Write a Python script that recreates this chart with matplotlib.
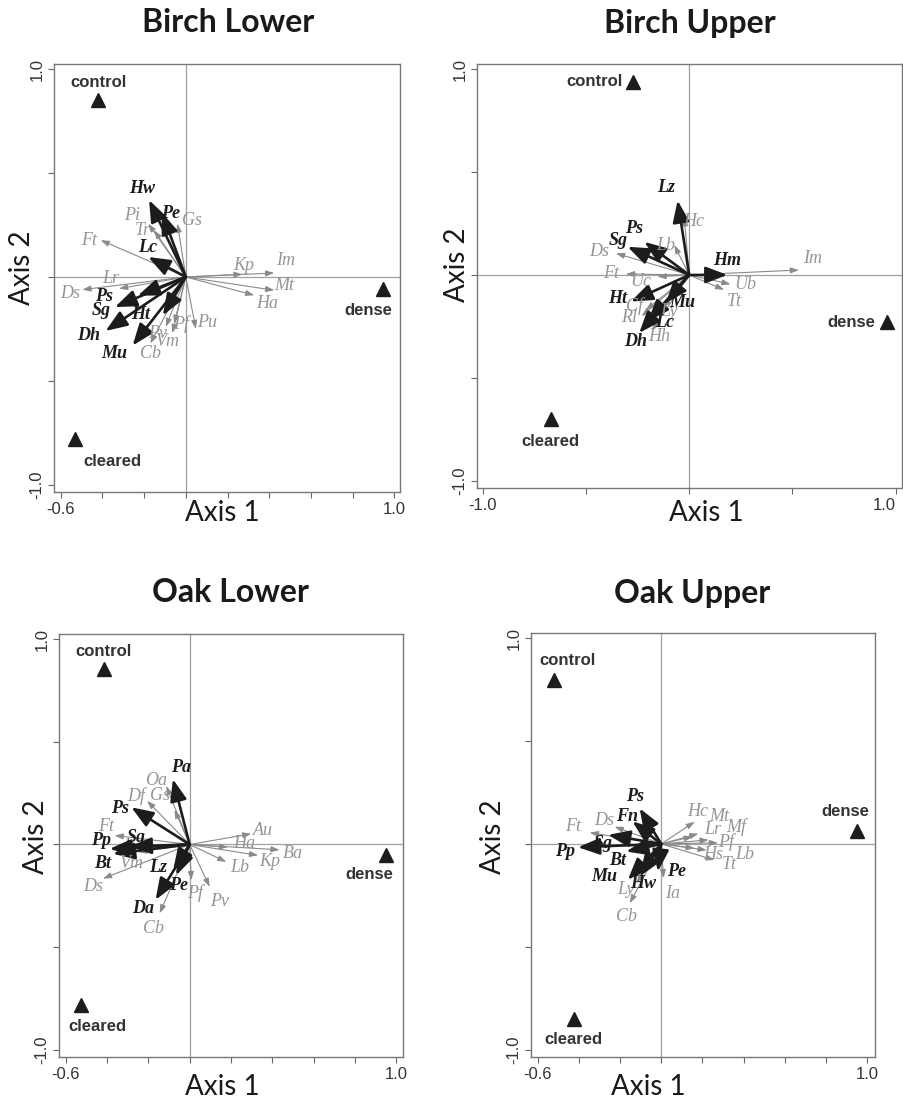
import numpy as np
import matplotlib.pyplot as plt

sites = ["control", "dense", "cleared"]

# Birch, lower canopy
bl_site_x = [-0.42, 0.944, -0.53]
bl_site_y = [0.85, -0.06, -0.78]
bl_bold = ["Hw", "Pe", "Lc", "Ps", "Sg", "Ht", "Dh", "Mu"]
bl_bold_x = [-0.176, -0.115, -0.18, -0.23, -0.34, -0.11, -0.385, -0.255]
bl_bold_y = [0.37, 0.31, 0.096, -0.09, -0.145, -0.185, -0.26, -0.33]
bl_grey = ["Pi", "Tr", "Gs", "Ft", "Lr", "Ds", "Kp", "Im", "Mt", "Ha",
           "Pf", "Pu", "Pv", "Vm", "Cb"]
bl_grey_x = [-0.18, -0.152, -0.04, -0.408, -0.32, -0.496, 0.272, 0.424,
             0.424, 0.328, -0.056, 0.048, -0.096, -0.064, -0.17]
bl_grey_y = [0.257, 0.225, 0.257, 0.177, -0.056, -0.061, 0.013, 0.019,
             -0.064, -0.088, -0.225, -0.25, -0.24, -0.27, -0.32]

# Birch, upper canopy
bu_site_x = [-0.274, 0.955, -0.671]
bu_site_y = [0.939, -0.229, -0.699]
bu_bold = ["Lz", "Ps", "Sg", "Hm", "Ht", "Mu", "Lc", "Dh"]
bu_bold_x = [-0.056, -0.217, -0.298, 0.185, -0.282, -0.113, -0.2, -0.242]
bu_bold_y = [0.362, 0.161, 0.137, 0.0, -0.129, -0.137, -0.225, -0.282]
bu_grey = ["Hc", "Lb", "Ds", "Ft", "Uc", "Im", "Ub", "Tt", "Ly", "Cf",
           "Rl", "Hh"]
bu_grey_x = [-0.024, -0.072, -0.354, -0.306, -0.153, 0.531, 0.2, 0.169,
             -0.129, -0.21, -0.23, -0.18]
bu_grey_y = [0.28, 0.145, 0.105, 0.005, -0.008, 0.024, -0.045, -0.072,
             -0.161, -0.17, -0.2, -0.27]

# Oak, lower canopy
ol_site_x = [-0.416, 0.952, -0.527]
ol_site_y = [0.853, -0.053, -0.784]
ol_bold = ["Pa", "Ps", "Sg", "Pp", "Bt", "Lz", "Pe", "Da"]
ol_bold_x = [-0.081, -0.282, -0.29, -0.387, -0.371, -0.08, -0.065, -0.165]
ol_bold_y = [0.318, 0.181, -0.01, -0.021, -0.045, -0.125, -0.15, -0.27]
ol_grey = ["Oa", "Df", "Gs", "Ft", "Vm", "Ds", "Au", "Ha", "Ba", "Kp",
           "Lb", "Pf", "Pv", "Cb"]
ol_grey_x = [-0.113, -0.206, -0.073, -0.363, -0.25, -0.419, 0.298, 0.185,
             0.435, 0.331, 0.177, 0.008, 0.097, -0.145]
ol_grey_y = [0.285, 0.213, 0.169, 0.044, -0.037, -0.166, 0.052, -0.013,
             -0.026, -0.053, -0.085, -0.174, -0.206, -0.335]

# Oak, upper canopy
ou_site_x = [-0.522, 0.952, -0.425]
ou_site_y = [0.796, 0.061, -0.848]
ou_bold = ["Ps", "Fn", "Sg", "Pp", "Bt", "Mu", "Hw", "Pe"]
ou_bold_x = [-0.105, -0.14, -0.258, -0.404, -0.17, -0.162, -0.105, -0.016]
ou_bold_y = [0.173, 0.11, 0.044, -0.016, -0.037, -0.174, -0.158, -0.134]
ou_grey = ["Ft", "Ds", "Hc", "Mt", "Lr", "Mf", "Pf", "Hs", "Lb", "Tt",
           "Ia", "Ly", "Cb"]
ou_grey_x = [-0.347, -0.226, 0.162, 0.18, 0.153, 0.23, 0.275, 0.162, 0.22,
             0.258, 0.011, -0.12, -0.153]
ou_grey_y = [0.055, 0.084, 0.108, 0.05, 0.036, 0.02, 0.006, -0.021, -0.03,
             -0.078, -0.166, -0.19, -0.288]

# where each species name sits, in axis units (hand placed to limit clashes)
label_spots = {
    "Birch Lower": {
        "Hw": (-0.208, 0.426), "Pe": (-0.075, 0.305), "Lc": (-0.181, 0.141),
        "Ps": (-0.392, -0.096), "Sg": (-0.408, -0.161), "Ht": (-0.216, -0.18),
        "Dh": (-0.464, -0.281), "Mu": (-0.344, -0.367), "Pi": (-0.256, 0.297),
        "Tr": (-0.208, 0.225), "Gs": (0.032, 0.273), "Ft": (-0.464, 0.177),
        "Lr": (-0.36, -0.008), "Ds": (-0.552, -0.08), "Kp": (0.277, 0.056),
        "Im": (0.48, 0.08), "Mt": (0.472, -0.04), "Ha": (0.392, -0.129),
        "Pf": (-0.024, -0.225), "Pu": (0.104, -0.217), "Pv": (-0.136, -0.273),
        "Vm": (-0.088, -0.313), "Cb": (-0.168, -0.367),
    },
    "Birch Upper": {
        "Lz": (-0.113, 0.427), "Ps": (-0.266, 0.225), "Sg": (-0.346, 0.169),
        "Hm": (0.185, 0.072), "Ht": (-0.346, -0.113), "Mu": (-0.032, -0.132),
        "Lc": (-0.121, -0.233), "Dh": (-0.258, -0.322), "Hc": (0.024, 0.258),
        "Lb": (-0.113, 0.145), "Ds": (-0.435, 0.113), "Ft": (-0.378, 0.008),
        "Uc": (-0.233, -0.032), "Im": (0.596, 0.081), "Ub": (0.274, -0.048),
        "Tt": (0.217, -0.129), "Ly": (-0.097, -0.177), "Cf": (-0.266, -0.153),
        "Rl": (-0.29, -0.209), "Hh": (-0.145, -0.298),
    },
    "Oak Lower": {
        "Pa": (-0.04, 0.374), "Oa": (-0.161, 0.31), "Df": (-0.258, 0.237),
        "Gs": (-0.145, 0.237), "Ps": (-0.339, 0.173), "Ft": (-0.403, 0.089),
        "Sg": (-0.258, 0.035), "Pp": (-0.427, 0.019), "Bt": (-0.419, -0.094),
        "Vm": (-0.282, -0.094), "Ds": (-0.468, -0.206), "Lz": (-0.153, -0.11),
        "Pe": (-0.056, -0.198), "Da": (-0.226, -0.311), "Cb": (-0.177, -0.408),
        "Pf": (0.024, -0.239), "Pv": (0.145, -0.279), "Au": (0.355, 0.068),
        "Ha": (0.266, 0.003), "Ba": (0.5, -0.045), "Kp": (0.387, -0.085),
        "Lb": (0.242, -0.11),
    },
    "Oak Upper": {
        "Ps": (-0.129, 0.229), "Fn": (-0.166, 0.132), "Ds": (-0.275, 0.116),
        "Ft": (-0.428, 0.084), "Sg": (-0.283, 0.003), "Pp": (-0.468, -0.037),
        "Bt": (-0.21, -0.078), "Mu": (-0.275, -0.158), "Hw": (-0.089, -0.191),
        "Pe": (0.073, -0.134), "Ia": (0.057, -0.239), "Ly": (-0.17, -0.223),
        "Cb": (-0.17, -0.352), "Hc": (0.178, 0.157), "Mt": (0.283, 0.132),
        "Lr": (0.25, 0.068), "Mf": (0.363, 0.084), "Pf": (0.315, 0.011),
        "Hs": (0.25, -0.053), "Lb": (0.404, -0.053), "Tt": (0.331, -0.102),
    },
}

W, H = 904, 1102
fig = plt.figure(figsize=(W / 100, H / 100), dpi=100)

GREY = "#959595"
DARK = "#1c1c1c"
SERIF = "Liberation Serif"
SANS = "Liberation Sans"


def px_axes(left, top, right, bottom):
    return fig.add_axes([left / W, 1 - bottom / H, (right - left) / W,
                         (bottom - top) / H])


def species_label(ax, spots, name, x, y, color, weight):
    if name in spots:
        lx, ly = spots[name]
    else:
        r = np.hypot(x, y)
        lx, ly = x + 0.065 * x / r, y + 0.05 * y / r
    ax.text(lx, ly, name, color=color, fontsize=13, family=SERIF,
            style="italic", weight=weight, ha="center", va="center", zorder=5)


def biplot(ax, spots, site_x, site_y, offsets, bold, bx, by, grey, gx, gy,
           xlim, xticks):
    ax.set_xlim(*xlim)
    ax.set_ylim(-1.035, 1.025)
    ax.axhline(0, color="#a0a0a0", lw=0.9, zorder=0)
    ax.axvline(0, color="#a0a0a0", lw=0.9, zorder=0)

    for name, x, y in zip(grey, gx, gy):
        ax.annotate("", xy=(x, y), xytext=(0, 0),
                    arrowprops=dict(arrowstyle="-|>,head_length=1.0,head_width=0.35",
                                    mutation_scale=5, color="#8a8a8a", lw=0.8,
                                    shrinkA=0, shrinkB=0), zorder=2)
        species_label(ax, spots, name, x, y, GREY, "normal")

    for name, x, y in zip(bold, bx, by):
        ax.annotate("", xy=(x, y), xytext=(0, 0),
                    arrowprops=dict(arrowstyle="-|>,head_length=1.1,head_width=0.42",
                                    mutation_scale=12, color=DARK, lw=1.9,
                                    shrinkA=0, shrinkB=0), zorder=3)
        species_label(ax, spots, name, x, y, DARK, "bold")

    ax.plot(site_x, site_y, "^", color=DARK, ms=10, zorder=4)
    for name, x, y, (dx, dy, ha) in zip(sites, site_x, site_y, offsets):
        ax.annotate(name, xy=(x, y), xytext=(dx, dy),
                    textcoords="offset points", ha=ha, va="center",
                    fontsize=12, family=SANS, weight="bold", color="#333333")

    ax.set_xticks(xticks)
    ax.set_xticklabels([f"{xticks[0]:.1f}"] + [""] * (len(xticks) - 2)
                       + [f"{xticks[-1]:.1f}"])
    yt = [-1.0, -0.5, 0.0, 0.5, 1.0]
    ax.set_yticks(yt)
    ax.set_yticklabels(["-1.0", "", "", "", "1.0"], rotation=90, va="center")
    ax.tick_params(direction="out", length=4, width=0.8, color="#666666",
                   labelsize=12, labelcolor="#333333", pad=3)
    for lab in ax.get_xticklabels() + ax.get_yticklabels():
        lab.set_family(SANS)
    for s in ax.spines.values():
        s.set_color("#777777")
        s.set_linewidth(1.0)


short_ticks = np.round(np.arange(-0.6, 1.01, 0.2), 1)
long_ticks = [-1.0, -0.5, 0.0, 0.5, 1.0]

panels = [
    ("Birch Lower", (54, 64, 400, 492), (bl_site_x, bl_site_y),
     [(0, 13, "center"), (-10, -15, "center"), (27, -16, "center")],
     (bl_bold, bl_bold_x, bl_bold_y), (bl_grey, bl_grey_x, bl_grey_y),
     (-0.632, 1.027), short_ticks, (228, 23), (222, 513), (22, 268)),
    ("Birch Upper", (477, 64, 902, 488), (bu_site_x, bu_site_y),
     [(-7, 0, "right"), (-8, 0, "right"), (0, -16, "center")],
     (bu_bold, bu_bold_x, bu_bold_y), (bu_grey, bu_grey_x, bu_grey_y),
     (-1.027, 1.03), long_ticks, (690, 23), (706, 513), (457, 265)),
    ("Oak Lower", (59, 634, 403, 1057), (ol_site_x, ol_site_y),
     [(0, 13, "center"), (-12, -14, "center"), (12, -15, "center")],
     (ol_bold, ol_bold_x, ol_bold_y), (ol_grey, ol_grey_x, ol_grey_y),
     (-0.632, 1.032), short_ticks, (230, 593), (222, 1087), (36, 837)),
    ("Oak Upper", (531, 633, 875, 1057), (ou_site_x, ou_site_y),
     [(10, 14, "center"), (-9, 14, "center"), (0, -15, "center")],
     (ou_bold, ou_bold_x, ou_bold_y), (ou_grey, ou_grey_x, ou_grey_y),
     (-0.632, 1.037), short_ticks, (692, 593), (648, 1087), (493, 837)),
]

for (title, box, (sx, sy), offs, (bn, bxs, bys), (gn, gxs, gys), xlim,
     ticks, tpos, x1pos, y2pos) in panels:
    ax = px_axes(*box)
    biplot(ax, label_spots[title], sx, sy, offs, bn, bxs, bys, gn, gxs, gys,
           xlim, ticks)
    if title == "Birch Upper":
        # keep the last tick label inside the figure edge
        ax.get_xticklabels()[-1].set_horizontalalignment("right")
    fig.text(tpos[0] / W, 1 - tpos[1] / H, title, ha="center", va="center",
             fontsize=23, family="Lato", weight="bold", color="#1a1a1a")
    fig.text(x1pos[0] / W, 1 - x1pos[1] / H, "Axis 1", ha="center",
             va="center", fontsize=20, family="Lato", color="#1a1a1a")
    fig.text(y2pos[0] / W, 1 - y2pos[1] / H, "Axis 2", ha="center",
             va="center", rotation=90, fontsize=20, family="Lato",
             color="#1a1a1a")

fig.savefig("out.png", dpi=100)
